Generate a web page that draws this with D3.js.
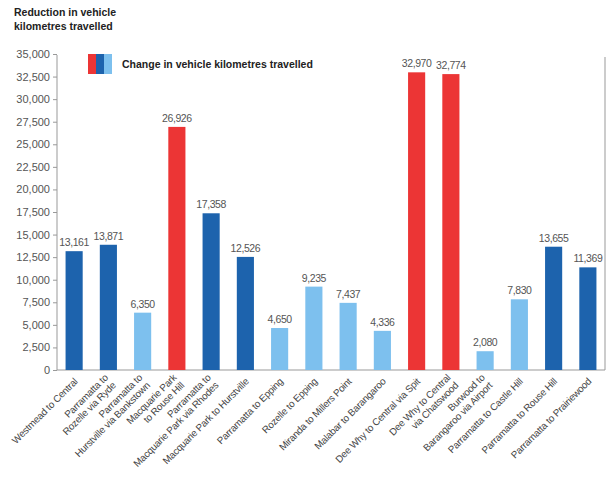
<!DOCTYPE html>
<head>
<style>
  body { margin: 0; background: #fff; }
  svg { font-family: "Liberation Sans", Arial, sans-serif; }
  .title, .legend-text { font-weight: bold; fill: #222; font-size: 10.5px; }
  .axis text { fill: #555; font-size: 11px; }
  .axis path, .axis line { stroke: #999; }
  .value { fill: #555; font-size: 10.5px; text-anchor: middle; letter-spacing: -0.4px; }
  .xlab { fill: #444; font-size: 9.8px; letter-spacing: -0.2px; }
</style>
</head>
<body>
<svg width="613" height="477"></svg>
<script src="https://d3js.org/d3.v7.min.js"></script>
<script>

var routes = [
  ["Westmead to Central"],
  ["Parramatta to", "Rozelle via Ryde"],
  ["Parramatta to", "Hurstville via Bankstown"],
  ["Macquarie Park", "to Rouse Hill"],
  ["Parramatta to", "Macquarie Park via Rhodes"],
  ["Macquarie Park to Hurstville"],
  ["Parramatta to Epping"],
  ["Rozelle to Epping"],
  ["Miranda to Millers Point"],
  ["Malabar to Barangaroo"],
  ["Dee Why to Central via Spit"],
  ["Dee Why to Central", "via Chatswood"],
  ["Burwood to", "Barangaroo via Airport"],
  ["Parramatta to Castle Hill"],
  ["Parramatta to Rouse Hill"],
  ["Parramatta to Prairiewood"]
];
var reduction = [13161, 13871, 6350, 26926, 17358, 12526, 4650, 9235, 7437, 4336, 32970, 32774, 2080, 7830, 13655, 11369];
var group = ["dark", "dark", "light", "red", "dark", "dark", "light", "light", "light", "light", "red", "red", "light", "light", "dark", "dark"];
var yTicks = d3.range(0, 35001, 2500);

var svg = d3.select("svg");
var mLeft = 57, mRight = 605, mTop = 54, mBottom = 370;

var color = { red: "#ec3535", dark: "#1d63ad", light: "#7dc0ee" };

var x = d3.scaleBand()
    .domain(d3.range(routes.length))
    .range([mLeft, mRight])
    .paddingInner(0.5)
    .paddingOuter(0.25);

var y = d3.scaleLinear().domain([0, 35000]).range([mBottom, mTop]);

// title
svg.append("text").attr("class", "title").attr("x", 14).attr("y", 16).text("Reduction in vehicle");
svg.append("text").attr("class", "title").attr("x", 14).attr("y", 30).text("kilometres travelled");

// y axis
svg.append("g")
    .attr("class", "axis")
    .attr("transform", "translate(" + mLeft + ",0)")
    .call(d3.axisLeft(y).tickValues(yTicks).tickSize(4).tickPadding(3).tickFormat(d3.format(",")))
    .call(function(g) { g.select(".domain").attr("d", "M0," + (mTop + 1) + "V" + mBottom); });

// baseline + right frame
svg.append("line").attr("x1", mLeft).attr("x2", mRight).attr("y1", mBottom).attr("y2", mBottom).attr("stroke", "#999");
svg.append("line").attr("x1", mRight).attr("x2", mRight).attr("y1", 57).attr("y2", mBottom).attr("stroke", "#999");

// bars
svg.selectAll("rect.bar")
  .data(reduction)
  .enter().append("rect")
    .attr("class", "bar")
    .attr("x", function(d, i) { return x(i); })
    .attr("y", function(d) { return y(d); })
    .attr("width", x.bandwidth())
    .attr("height", function(d) { return mBottom - y(d); })
    .attr("fill", function(d, i) { return color[group[i]]; });

svg.selectAll("text.value")
  .data(reduction)
  .enter().append("text")
    .attr("class", "value")
    .attr("x", function(d, i) { return x(i) + x.bandwidth() / 2; })
    .attr("y", function(d) { return y(d) - 5; })
    .text(d3.format(","));

// x labels
var lab = svg.selectAll("text.xlab")
  .data(routes)
  .enter().append("text")
    .attr("class", "xlab")
    .attr("text-anchor", "end")
    .attr("transform", function(d, i) {
      return "translate(" + (x(i) + x.bandwidth() / 2 + 2) + "," + (mBottom + 10) + ") rotate(-45)";
    });

lab.selectAll("tspan")
  .data(function(d) { return d; })
  .enter().append("tspan")
    .attr("x", 0)
    .attr("y", function(d, j, arr) { return (j - (arr.length - 1) / 2) * 11 + 3; })
    .text(function(d) { return d; });

// legend
var lg = svg.append("g").attr("transform", "translate(88,54)");
["red", "dark", "light"].forEach(function(k, i) {
  lg.append("rect").attr("x", i * 8).attr("y", 0).attr("width", 8).attr("height", 20).attr("fill", color[k]);
});
lg.append("text").attr("class", "legend-text").attr("x", 34).attr("y", 14).text("Change in vehicle kilometres travelled");

</script>
</body>
